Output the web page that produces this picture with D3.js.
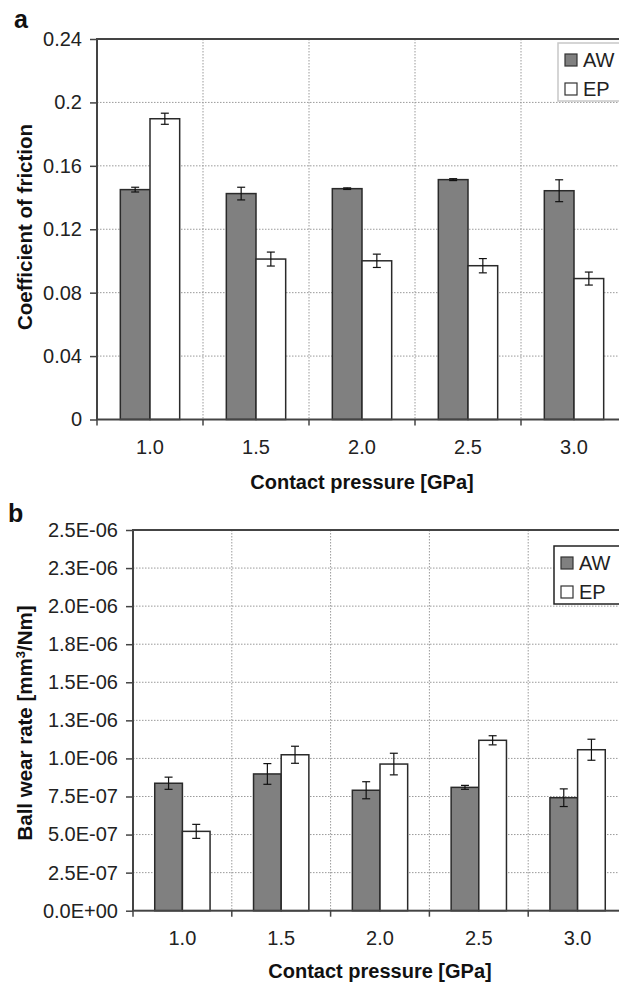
<!DOCTYPE html>
<html>
<head>
<meta charset="utf-8">
<script src="https://cdn.jsdelivr.net/npm/d3@7"></script>
<style>
	body { margin: 0; background: #fff; }
	svg { display: block; font-family: "Liberation Sans", Arial, sans-serif; }
</style>
</head>
<body>
<svg width="619" height="983"></svg>
<script>
let pressures = ["1.0", "1.5", "2.0", "2.5", "3.0"];
let series_names = ["AW", "EP"];

// panel a: coefficient of friction
let friction_aw = [0.1450, 0.1425, 0.1456, 0.1513, 0.1443];
let friction_aw_err = [0.0015, 0.0040, 0.0005, 0.0006, 0.0069];
let friction_ep = [0.1897, 0.1012, 0.1001, 0.0970, 0.0889];
let friction_ep_err = [0.0035, 0.0044, 0.0042, 0.0045, 0.0041];
let friction_ticks = [0, 0.04, 0.08, 0.12, 0.16, 0.2, 0.24];
let friction_tick_labels = ["0", "0.04", "0.08", "0.12", "0.16", "0.2", "0.24"];

// panel b: ball wear rate
let wear_aw = [0.837e-6, 0.898e-6, 0.791e-6, 0.810e-6, 0.742e-6];
let wear_aw_err = [0.040e-6, 0.068e-6, 0.056e-6, 0.013e-6, 0.058e-6];
let wear_ep = [0.521e-6, 1.024e-6, 0.963e-6, 1.119e-6, 1.057e-6];
let wear_ep_err = [0.046e-6, 0.056e-6, 0.071e-6, 0.030e-6, 0.069e-6];
let wear_ticks = [0, 0.25e-6, 0.5e-6, 0.75e-6, 1.0e-6, 1.25e-6, 1.5e-6, 1.75e-6, 2.0e-6, 2.25e-6, 2.5e-6];
let wear_tick_labels = ["0.0E+00", "2.5E-07", "5.0E-07", "7.5E-07", "1.0E-06", "1.3E-06",
	"1.5E-06", "1.8E-06", "2.0E-06", "2.3E-06", "2.5E-06"];

let fills = { "AW": "#808080", "EP": "#ffffff" };

function draw_panel(svg, p) {
	let x = d3.scaleBand()
		.domain(pressures)
		.range([p.left, p.right]);
	let bw = x.bandwidth();
	let xs = d3.scaleBand()
		.domain(series_names)
		.range([bw * 0.22, bw * 0.78]);
	let y = d3.scaleLinear()
		.domain([0, p.ticks[p.ticks.length - 1]])
		.range([p.bottom, p.top]);

	let g = svg.append("g");

	// gridlines
	g.selectAll(".hgrid")
		.data(p.ticks.slice(1))
		.enter()
		.append("line")
		.attr("x1", p.left).attr("x2", p.right)
		.attr("y1", d => y(d)).attr("y2", d => y(d))
		.attr("stroke", "#9a9a9a")
		.attr("stroke-width", 1)
		.attr("stroke-dasharray", "1.5,1.5");
	g.selectAll(".vgrid")
		.data(pressures.slice(1))
		.enter()
		.append("line")
		.attr("x1", d => x(d)).attr("x2", d => x(d))
		.attr("y1", p.top).attr("y2", p.bottom)
		.attr("stroke", "#9a9a9a")
		.attr("stroke-width", 1)
		.attr("stroke-dasharray", "1.5,1.5");

	// bars
	let rows = pressures.map(function(c, i) {
		return [
			{ cat: c, s: "AW", v: p.aw[i], e: p.aw_err[i] },
			{ cat: c, s: "EP", v: p.ep[i], e: p.ep_err[i] }
		];
	}).flat();

	g.selectAll(".bar")
		.data(rows)
		.enter()
		.append("rect")
		.attr("x", d => x(d.cat) + xs(d.s))
		.attr("y", d => y(d.v))
		.attr("width", xs.bandwidth())
		.attr("height", d => y(0) - y(d.v))
		.attr("fill", d => fills[d.s])
		.attr("stroke", "#2a2a2a")
		.attr("stroke-width", 1.5);

	// error bars
	let eb = g.selectAll(".err")
		.data(rows)
		.enter()
		.append("g")
		.attr("stroke", "#111")
		.attr("stroke-width", 1.2);
	let cx = d => x(d.cat) + xs(d.s) + xs.bandwidth() / 2;
	eb.append("line")
		.attr("x1", cx).attr("x2", cx)
		.attr("y1", d => y(d.v + d.e)).attr("y2", d => y(d.v - d.e));
	eb.append("line")
		.attr("x1", d => cx(d) - 4).attr("x2", d => cx(d) + 4)
		.attr("y1", d => y(d.v + d.e)).attr("y2", d => y(d.v + d.e));
	eb.append("line")
		.attr("x1", d => cx(d) - 4).attr("x2", d => cx(d) + 4)
		.attr("y1", d => y(d.v - d.e)).attr("y2", d => y(d.v - d.e));

	// frame
	g.append("rect")
		.attr("x", p.left).attr("y", p.top)
		.attr("width", p.right - p.left).attr("height", p.bottom - p.top)
		.attr("fill", "none")
		.attr("stroke", "#444")
		.attr("stroke-width", 2);

	// y axis
	let yaxis = g.append("g")
		.attr("transform", "translate(" + p.left + ",0)")
		.call(d3.axisLeft(y)
			.tickValues(p.ticks)
			.tickFormat((d, i) => p.tick_labels[i])
			.tickSize(7)
			.tickPadding(8));
	yaxis.select(".domain").remove();
	yaxis.selectAll("line").attr("stroke", "#444").attr("stroke-width", 1.5);
	yaxis.selectAll("text")
		.attr("font-size", 20)
		.attr("font-family", "Liberation Sans, Arial, sans-serif")
		.attr("fill", "#222");

	// x axis labels at centres, ticks at boundaries
	let xaxis = g.append("g")
		.attr("transform", "translate(0," + p.bottom + ")")
		.call(d3.axisBottom(x).tickSize(0).tickPadding(20));
	xaxis.select(".domain").remove();
	xaxis.selectAll("text")
		.attr("font-size", 20)
		.attr("font-family", "Liberation Sans, Arial, sans-serif")
		.attr("fill", "#222");
	g.selectAll(".xtick")
		.data(pressures)
		.enter()
		.append("line")
		.attr("x1", d => x(d)).attr("x2", d => x(d))
		.attr("y1", p.bottom).attr("y2", p.bottom + 6)
		.attr("stroke", "#444")
		.attr("stroke-width", 1.5);

	// axis titles
	g.append("text")
		.attr("x", (p.left + p.right) / 2)
		.attr("y", p.xtitle_y)
		.attr("text-anchor", "middle")
		.attr("font-size", 20)
		.attr("font-weight", "bold")
		.attr("fill", "#111")
		.text("Contact pressure [GPa]");

	let yt = g.append("text")
		.attr("transform", "translate(" + p.ytitle_x + "," + p.ytitle_y + ") rotate(-90)")
		.attr("text-anchor", "middle")
		.attr("font-size", 20.5)
		.attr("font-weight", "bold")
		.attr("fill", "#111");
	p.ytitle(yt);

	// panel letter
	g.append("text")
		.attr("x", p.letter_x).attr("y", p.letter_y)
		.attr("font-size", 25)
		.attr("font-weight", "bold")
		.attr("fill", "#111")
		.text(p.letter);

	// legend
	let lg = g.append("g")
		.attr("transform", "translate(" + p.legend_x + "," + p.legend_y + ")");
	lg.append("rect")
		.attr("x", 0).attr("y", 0)
		.attr("width", 80).attr("height", 58)
		.attr("fill", "#fff")
		.attr("stroke", p.legend_stroke)
		.attr("stroke-width", 1.5);
	lg.selectAll(".item")
		.data(series_names)
		.enter()
		.append("rect")
		.attr("x", 7).attr("y", (d, i) => 11 + i * 29)
		.attr("width", 12).attr("height", 12)
		.attr("fill", d => fills[d])
		.attr("stroke", "#333")
		.attr("stroke-width", 1.2);
	lg.selectAll(".label")
		.data(series_names)
		.enter()
		.append("text")
		.attr("x", 25).attr("y", (d, i) => 24 + i * 29)
		.attr("font-size", 20)
		.attr("fill", "#222")
		.text(d => d);
}

let svg = d3.select("svg");

draw_panel(svg, {
	left: 97, right: 627, top: 39, bottom: 419.5,
	aw: friction_aw, aw_err: friction_aw_err,
	ep: friction_ep, ep_err: friction_ep_err,
	ticks: friction_ticks, tick_labels: friction_tick_labels,
	xtitle_y: 489, ytitle_x: 31.5, ytitle_y: 227,
	ytitle: function(t) { t.text("Coefficient of friction"); },
	letter: "a", letter_x: 14, letter_y: 28,
	legend_x: 558, legend_y: 43, legend_stroke: "#c8c8c8"
});

draw_panel(svg, {
	left: 133, right: 627, top: 530, bottom: 910.7,
	aw: wear_aw, aw_err: wear_aw_err,
	ep: wear_ep, ep_err: wear_ep_err,
	ticks: wear_ticks, tick_labels: wear_tick_labels,
	xtitle_y: 978, ytitle_x: 31.5, ytitle_y: 723,
	ytitle: function(t) {
		t.append("tspan").text("Ball wear rate [mm");
		t.append("tspan").attr("baseline-shift", "super").attr("font-size", 13).text("3");
		t.append("tspan").text("/Nm]");
	},
	letter: "b", letter_x: 8, letter_y: 522,
	legend_x: 554, legend_y: 546, legend_stroke: "#222"
});
</script>
</body>
</html>
